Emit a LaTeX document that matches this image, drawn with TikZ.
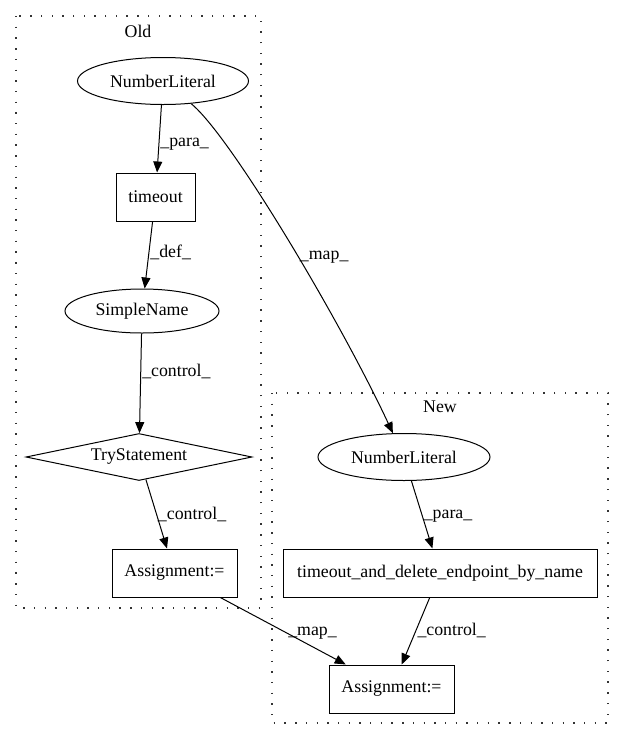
\documentclass[tikz,border=0pt]{standalone}
\usepackage{fontspec}
\setmainfont{Liberation Serif}
\usetikzlibrary{shapes.geometric,arrows.meta}

\begin{document}
\begin{tikzpicture}[x=1pt,y=-1pt,
  font=\fontsize{17.8}{20}\selectfont,
  every node/.style={inner sep=0pt},
  box/.style={draw,line width=1pt,rectangle,minimum height=48pt},
  oval/.style={draw,line width=1pt,ellipse,minimum width=171pt,minimum height=47pt},
  cond/.style={draw,line width=1pt,diamond,aspect=4.8,minimum width=226pt,minimum height=47pt},
  cluster/.style={draw=black!80,line width=1.3pt,dash pattern=on 1.4pt off 9.3pt},
  edge/.style={line width=1pt,-{Triangle[length=11pt,width=9pt]}},
  elabel/.style={anchor=west,inner sep=1pt}]
\useasboundingbox (0,0) rectangle (624,740);

% clusters
\draw[cluster] (16,16) rectangle (261,608);
\node (oldlbl) at (138,31) {Old};
\draw[cluster] (272,393) rectangle (608,723);
\node (newlbl) at (440,407) {New};

% old side
\node[oval] (numold) at (163,81) {NumberLiteral};
\node[box,minimum width=79pt] (timeout) at (155.5,197) {timeout};
\node[oval,minimum width=154pt,minimum height=44pt] (simple) at (142,311) {SimpleName};
\node[cond] (trystmt) at (139,457) {TryStatement};
\node[box,minimum width=125pt] (assignold) at (174.5,573) {Assignment:=};

% new side
\node[oval,minimum width=172pt] (numnew) at (404,457) {NumberLiteral};
\node[box,minimum width=314pt] (tadebn) at (440,573) {timeout\_and\_delete\_endpoint\_by\_name};
\node[box,minimum width=125pt] (assignnew) at (391.5,689) {Assignment:=};

% edges
\draw[edge] (numold) -- node[elabel,pos=0.58] {\_para\_} (timeout);
\draw[edge] (timeout) -- node[elabel,pos=0.46] {\_def\_} (simple);
\draw[edge] (simple) -- node[elabel,pos=0.38] {\_control\_} (trystmt);
\draw[edge] (trystmt) -- node[elabel,pos=0.5] {\_control\_} (assignold);
\draw[edge] (numnew) -- node[elabel,pos=0.52] {\_para\_} (tadebn);
\draw[edge] (tadebn) -- node[elabel,pos=0.49] {\_control\_} (assignnew);
\draw[edge] (assignold) -- node[elabel,pos=0.53] {\_map\_} (assignnew);
\draw[edge] (numold) .. controls (230,135) and (340,320) .. node[elabel,pos=0.55] {\_map\_} (numnew);

\end{tikzpicture}
\end{document}
